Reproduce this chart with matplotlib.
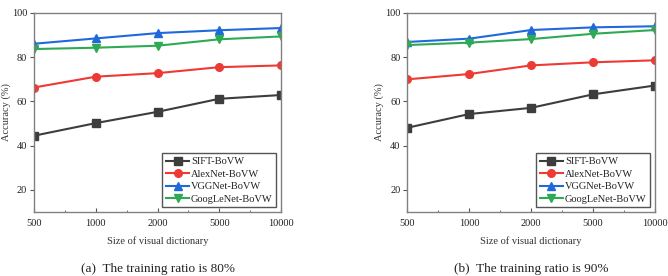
import numpy as np
import matplotlib
matplotlib.use('Agg')
import matplotlib.pyplot as plt
from matplotlib.ticker import MultipleLocator

plt.rcParams['font.family'] = ['Liberation Serif', 'DejaVu Serif']

dict_sizes = ['500', '1000', '2000', '5000', '10000']
methods = ['SIFT-BoVW', 'AlexNet-BoVW', 'VGGNet-BoVW', 'GoogLeNet-BoVW']

# training ratio 80%
acc_80 = {
    'SIFT-BoVW': [44.5, 50.2, 55.3, 61.2, 62.9],
    'AlexNet-BoVW': [66.3, 71.2, 72.8, 75.5, 76.3],
    'VGGNet-BoVW': [86.1, 88.5, 90.9, 92.2, 93.2],
    'GoogLeNet-BoVW': [83.7, 84.3, 85.2, 88.1, 89.4],
}
# training ratio 90%
acc_90 = {
    'SIFT-BoVW': [48.1, 54.3, 57.1, 63.2, 67.2],
    'AlexNet-BoVW': [70.0, 72.4, 76.3, 77.7, 78.6],
    'VGGNet-BoVW': [86.9, 88.4, 92.3, 93.5, 94.0],
    'GoogLeNet-BoVW': [85.5, 86.6, 88.2, 90.6, 92.3],
}
captions = ['(a)  The training ratio is 80%', '(b)  The training ratio is 90%']

colors = ['#3d3d3d', '#ee3a34', '#1f69dd', '#2eaa55']
markers = ['s', 'o', '^', 'v']

fig = plt.figure(figsize=(6.68, 2.76), dpi=100)
positions = [[0.0509, 0.2319, 0.3698, 0.721], [0.6098, 0.2319, 0.3705, 0.721]]
x = np.arange(len(dict_sizes))

for pos, data, cap in zip(positions, [acc_80, acc_90], captions):
    ax = fig.add_axes(pos)
    for m, c, mk in zip(methods, colors, markers):
        ax.plot(x, data[m], color=c, marker=mk, markersize=5.5, linewidth=1.5, label=m)
    ax.set_xlim(0, 4)
    ax.set_ylim(10, 100)
    ax.set_xticks(x)
    ax.set_xticklabels(dict_sizes)
    ax.xaxis.set_minor_locator(MultipleLocator(0.5))
    ax.set_yticks([20, 40, 60, 80, 100])
    ax.tick_params(axis='x', which='both', direction='in', labelsize=7.5, colors='#555555', labelcolor='#222222', length=3, pad=5)
    ax.tick_params(axis='x', which='minor', length=1.5)
    ax.tick_params(axis='y', direction='out', labelsize=7.5, colors='#555555', labelcolor='#222222', length=3, pad=2)
    for s in ax.spines.values():
        s.set_color('#808080')
        s.set_linewidth(1.0)
    ax.set_xlabel('Size of visual dictionary', fontsize=7.5, color='#333333', labelpad=6)
    ax.set_ylabel('Accuracy (%)', fontsize=7.5, color='#333333')
    ax.yaxis.set_label_coords(-0.095, 0.5)
    leg = ax.legend(loc='lower right', fontsize=7.5, fancybox=False, edgecolor='#555555',
                    borderpad=0.35, labelspacing=0.3, handlelength=2.2, handletextpad=0.2,
                    borderaxespad=0.45, framealpha=1)
    leg.get_frame().set_linewidth(1.0)
    for t in leg.get_texts():
        t.set_color('#222222')
    fig.text(pos[0] + pos[2] / 2, 0.025, cap, ha='center', va='center', fontsize=9.5, color='#222222')

plt.savefig('out.png', dpi=100)
